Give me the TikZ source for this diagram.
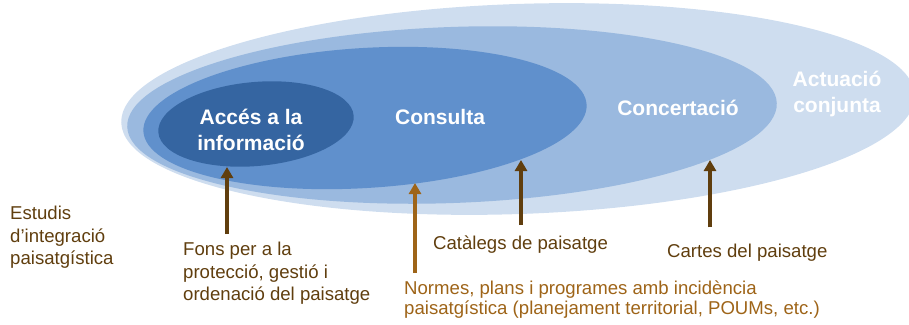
\documentclass[tikz,border=0pt]{standalone}
\usepackage{fontspec}
\setmainfont{Liberation Sans}
\usetikzlibrary{arrows.meta,positioning}
\definecolor{ringfour}{RGB}{206,221,239}
\definecolor{ringthree}{RGB}{154,185,223}
\definecolor{ringtwo}{RGB}{96,144,204}
\definecolor{ringone}{RGB}{53,101,161}
\definecolor{darkbrown}{RGB}{96,62,14}
\definecolor{lightbrown}{RGB}{158,100,24}
\tikzstyle{every node}=[inner sep=0pt]
\tikzstyle{stage}=[font=\fontsize{21}{26}\selectfont\bfseries,text=white,align=center]
\tikzstyle{instrument}=[font=\fontsize{18.6}{22.5}\selectfont,text=darkbrown,align=left]
\tikzstyle{pointer}=[draw=darkbrown,line width=3.5pt,-{Triangle[width=12pt,length=11pt]}]

\begin{document}
\begin{tikzpicture}[x=1pt,y=-1pt]
  \clip (0,0) rectangle (909,324);
  % nested levels
  \fill[ringfour,rotate around={2:(518,109)}] (518,109) ellipse [x radius=397,y radius=105];
  \fill[ringthree,rotate around={2.1:(452,115)}] (452,115) ellipse [x radius=325,y radius=88];
  \fill[ringtwo,rotate around={3.5:(365,118)}] (365,118) ellipse [x radius=222,y radius=70];
  \fill[ringone,rotate around={5:(256,124)}] (256,124) ellipse [x radius=98,y radius=42];
  \node[stage,anchor=north] (acces) at (251,109) {Accés a la\\informació};
  \node[stage,anchor=base] (consulta) at (440,124) {Consulta};
  \node[stage,anchor=base] (concertacio) at (678,115) {Concertació};
  \node[stage,anchor=north] (actuacio) at (837,71) {Actuació\\conjunta};
  % instruments
  \node[instrument,anchor=north west] (estudis) at (10,206) {Estudis\\d’integració\\paisatgística};
  \node[instrument,anchor=north west] (fons) at (183,242) {Fons per a la\\protecció, gestió i\\ordenació del paisatge};
  \node[instrument,anchor=north west,text=lightbrown,font=\fontsize{18.6}{19.5}\selectfont] (normes) at (404,281) {Normes, plans i programes amb incidència\\paisatgística (planejament territorial, POUMs, etc.)};
  \node[instrument,anchor=base west] (cataleg) at (433,249) {Catàlegs de paisatge};
  \node[instrument,anchor=base west] (cartes) at (667,257) {Cartes del paisatge};
  % arrow tips on the levels
  \coordinate (tacces) at (227,167);
  \coordinate (tconsulta) at (415,183);
  \coordinate (tcataleg) at (521,160);
  \coordinate (tcartes) at (710,160);
  \coordinate[yshift=8pt] (sfons) at (tacces |- fons.north);
  \coordinate[yshift=8pt] (snormes) at (tconsulta |- normes.north);
  \coordinate[yshift=10pt] (scataleg) at (tcataleg |- cataleg.north);
  \coordinate[yshift=16pt] (scartes) at (tcartes |- cartes.north);
  \draw[pointer] (sfons) -- (tacces);
  \draw[pointer,draw=lightbrown] (snormes) -- (tconsulta);
  \draw[pointer] (scataleg) -- (tcataleg);
  \draw[pointer] (scartes) -- (tcartes);
\end{tikzpicture}
\end{document}
